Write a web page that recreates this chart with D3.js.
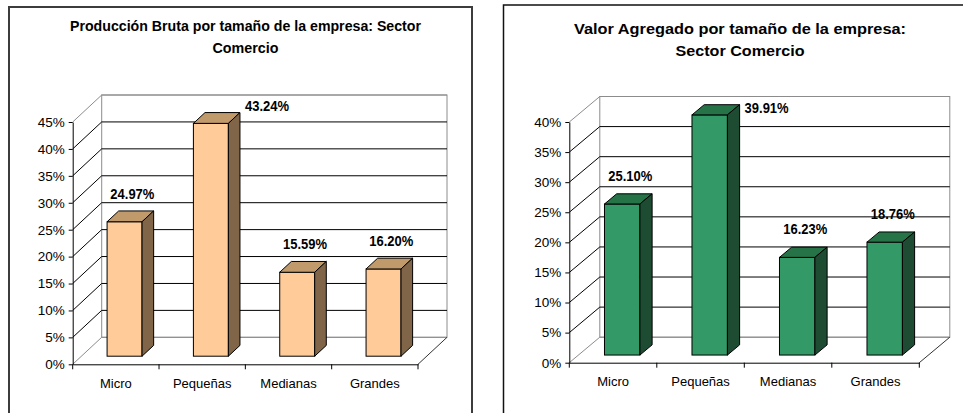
<!DOCTYPE html>
<html lang="es">
<head>
<meta charset="utf-8">
<title>Sector Comercio</title>
<script type="text/javascript" src="https://cdn.jsdelivr.net/npm/d3@7"></script>
<style type="text/css">
    body { margin: 0; background: #fff; }
    svg text { font-family: "Liberation Sans", Arial, sans-serif; }
    .tick text { font-size: 13.5px; fill: #000; }
    .x.axis .tick text { font-size: 13px; }
    .label { font-size: 14px; font-weight: bold; }
    .title { font-size: 14px; font-weight: bold; }
</style>
</head>
<body>
<script type="text/javascript">

    // Data
    var categories = ["Micro", "Pequeñas", "Medianas", "Grandes"];
    var produccionValues = [24.97, 43.24, 15.59, 16.20];
    var valorValues = [25.10, 39.91, 16.23, 18.76];
    var produccionTicks = [0, 5, 10, 15, 20, 25, 30, 35, 40, 45];
    var valorTicks = [0, 5, 10, 15, 20, 25, 30, 35, 40];
    var produccionTitle = ["Producción Bruta por tamaño de la empresa: Sector", "Comercio"];
    var valorTitle = ["Valor Agregado por tamaño de la empresa:", "Sector Comercio"];

    var w = 963, h = 413;

    var svg = d3.select("body")
                .append("svg")
                .attr("width", w)
                .attr("height", h);

    // frames
    svg.append("rect")
       .attr("x", 9).attr("y", 7)
       .attr("width", 463).attr("height", 430)
       .attr("fill", "none")
       .attr("stroke", "#3c3c3c")
       .attr("stroke-width", 2);

    svg.append("rect")
       .attr("x", 503.5).attr("y", 5)
       .attr("width", 500).attr("height", 430)
       .attr("fill", "none")
       .attr("stroke", "#111")
       .attr("stroke-width", 1.5);

    function pct(d) { return d + "%"; }

    function drawChart(o) {
        var g = svg.append("g");
        var dx = o.dx, dy = o.dy;
        var f0 = 0.3, f1 = 0.7;   // bar depth (front / back fraction)

        var xScale = d3.scaleBand()
                       .domain(o.categories)
                       .range([o.x0, o.x1]);

        var yScale = d3.scaleLinear()
                       .domain([0, d3.max(o.ticks)])
                       .range([o.yBottom, o.yTop]);

        var y0 = yScale(0), yMax = yScale(d3.max(o.ticks));
        var gray = "#8c8c8c";

        // back wall
        g.append("rect")
         .attr("x", o.x0 + dx).attr("y", yMax + dy)
         .attr("width", o.x1 - o.x0).attr("height", y0 - yMax)
         .attr("fill", "#fff")
         .attr("stroke", gray);

        // gridlines on back wall + side wall diagonals
        g.selectAll(".grid")
         .data(o.ticks)
         .enter()
         .append("line")
         .attr("x1", o.x0 + dx).attr("x2", o.x1 + dx)
         .attr("y1", function(d) { return yScale(d) + dy; })
         .attr("y2", function(d) { return yScale(d) + dy; })
         .attr("stroke", function(d, i) { return (i === 0 || i === o.ticks.length - 1) ? gray : "#000"; });

        g.selectAll(".diag")
         .data(o.ticks)
         .enter()
         .append("line")
         .attr("x1", o.x0).attr("x2", o.x0 + dx)
         .attr("y1", function(d) { return yScale(d); })
         .attr("y2", function(d) { return yScale(d) + dy; })
         .attr("stroke", function(d, i) { return (i === 0 || i === o.ticks.length - 1) ? gray : "#000"; });

        // floor right edge
        g.append("line")
         .attr("x1", o.x1).attr("y1", y0)
         .attr("x2", o.x1 + dx).attr("y2", y0 + dy)
         .attr("stroke", "#333");

        // Y axis
        var yAxis = d3.axisLeft()
                      .scale(yScale)
                      .tickValues(o.ticks)
                      .tickFormat(pct)
                      .tickSizeInner(4)
                      .tickSizeOuter(0)
                      .tickPadding(4);

        g.append("g")
         .attr("class", "y axis")
         .attr("transform", "translate(" + o.x0 + ",0)")
         .call(yAxis)
         .call(function(a) { a.selectAll("text").attr("font-family", null).attr("font-size", null); });

        // X axis: ticks at category boundaries, labels centred
        var xAxis = d3.axisBottom()
                      .scale(xScale)
                      .tickSize(0)
                      .tickPadding(14);

        var xg = g.append("g")
                  .attr("class", "x axis")
                  .attr("transform", "translate(0," + y0 + ")")
                  .call(xAxis);
        xg.selectAll("text").attr("font-family", null).attr("font-size", null);
        xg.select(".domain").attr("stroke", "#000");

        var edges = o.categories.map(function(c) { return xScale(c); }).concat([o.x1]);
        xg.selectAll(".edge")
          .data(edges)
          .enter()
          .append("line")
          .attr("x1", function(d) { return d; })
          .attr("x2", function(d) { return d; })
          .attr("y1", 0).attr("y2", 5)
          .attr("stroke", "#000");

        // bars
        var bw = xScale.bandwidth() * 0.405;
        var bars = g.selectAll(".bar")
                    .data(o.values)
                    .enter()
                    .append("g");

        function bx(d, i) { return xScale(o.categories[i]) + (xScale.bandwidth() - bw) / 2; }

        // front
        bars.append("rect")
            .attr("x", function(d, i) { return bx(d, i) + f0 * dx; })
            .attr("y", function(d) { return yScale(d) + f0 * dy; })
            .attr("width", bw)
            .attr("height", function(d) { return y0 - yScale(d); })
            .attr("fill", o.colors[0])
            .attr("stroke", "#000");

        // top
        bars.append("polygon")
            .attr("points", function(d, i) {
                var x = bx(d, i), y = yScale(d);
                return [[x + f0 * dx, y + f0 * dy], [x + bw + f0 * dx, y + f0 * dy],
                        [x + bw + f1 * dx, y + f1 * dy], [x + f1 * dx, y + f1 * dy]].join(" ");
            })
            .attr("fill", o.colors[1])
            .attr("stroke", "#000");

        // side
        bars.append("polygon")
            .attr("points", function(d, i) {
                var x = bx(d, i) + bw, y = yScale(d);
                return [[x + f0 * dx, y + f0 * dy], [x + f1 * dx, y + f1 * dy],
                        [x + f1 * dx, y0 + f1 * dy], [x + f0 * dx, y0 + f0 * dy]].join(" ");
            })
            .attr("fill", o.colors[2])
            .attr("stroke", "#000");

        // data labels (above the bar, or beside it when it reaches the top)
        function overTop(d) { return yScale(d) + f0 * dy - 34 < yMax + dy; }

        g.selectAll(".label")
         .data(o.values)
         .enter()
         .append("text")
         .attr("class", "label")
         .attr("x", function(d, i) {
             if (overTop(d)) return bx(d, i) + bw + f1 * dx + 5;
             return bx(d, i) + bw / 2 + (f0 + f1) / 2 * dx + 2;
         })
         .attr("y", function(d) {
             if (overTop(d)) return yMax + dy + 16;
             return yScale(d) + f0 * dy - 23;
         })
         .attr("text-anchor", function(d) { return overTop(d) ? "start" : "middle"; })
         .attr("textLength", 44)
         .attr("lengthAdjust", "spacingAndGlyphs")
         .text(function(d) { return d.toFixed(2) + "%"; });

        // title
        g.selectAll(".title")
         .data(o.title)
         .enter()
         .append("text")
         .attr("class", "title")
         .attr("x", o.titleX)
         .attr("y", function(d, i) { return o.titleY + i * 22; })
         .attr("text-anchor", "middle")
         .attr("textLength", function(d, i) { return o.titleLen[i]; })
         .attr("lengthAdjust", "spacingAndGlyphs")
         .text(function(d) { return d; });
    }

    drawChart({
        categories: categories,
        values: produccionValues,
        ticks: produccionTicks,
        title: produccionTitle,
        titleX: 245.5, titleY: 31, titleLen: [351, 66],
        x0: 72.7, x1: 418, yBottom: 364.3, yTop: 122,
        dx: 29, dy: -27,
        colors: ["#ffcc99", "#c09a6b", "#806548"]
    });

    drawChart({
        categories: categories,
        values: valorValues,
        ticks: valorTicks,
        title: valorTitle,
        titleX: 740, titleY: 34, titleLen: [332, 129],
        x0: 569.3, x1: 919.3, yBottom: 362.7, yTop: 122,
        dx: 30.5, dy: -25.5,
        colors: ["#339966", "#267348", "#1d4c33"]
    });

</script>
</body>
</html>
